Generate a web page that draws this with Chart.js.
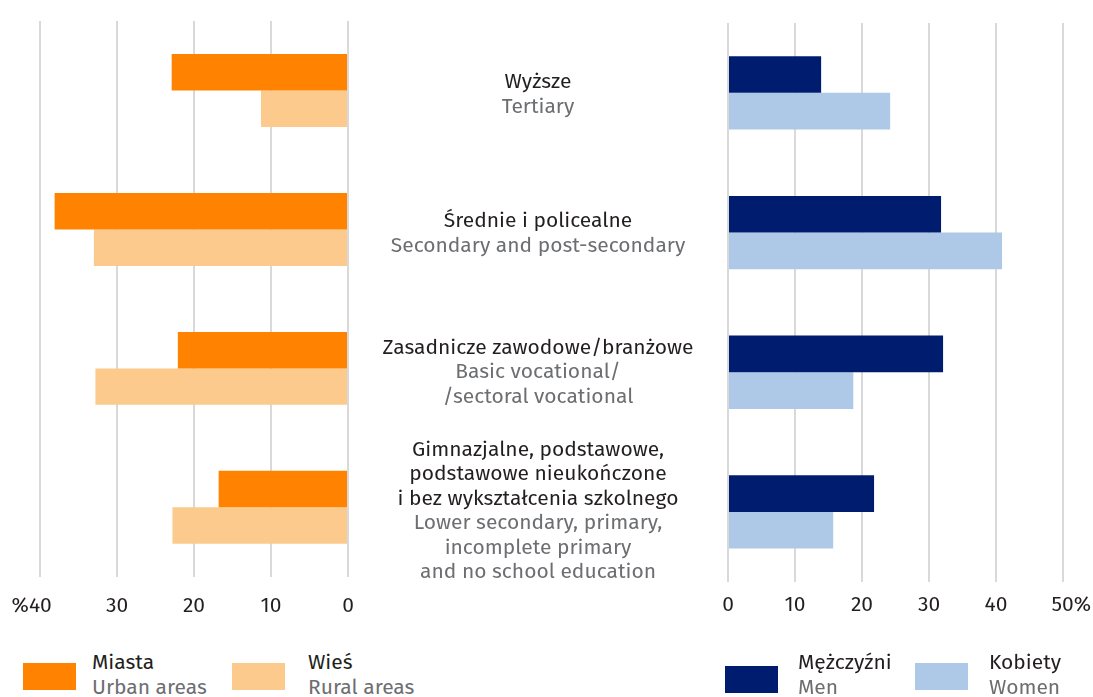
<!DOCTYPE html>
<html>
<head>
<meta charset="utf-8">
<script src="https://cdn.jsdelivr.net/npm/chart.js@4.4.1/dist/chart.umd.min.js"></script>
<style>
  body { margin: 0; background: #fff; font-family: "Fira Sans", "Noto Sans", sans-serif; }
  #wrap { position: relative; width: 1093px; height: 697px; overflow: hidden; }
  canvas { position: absolute; top: 0; }
  #left { left: 0; }
  #right { left: 700px; }
  .leg { position: absolute; font-size: 21px; line-height: 25px; }
  .leg .sw { position: absolute; width: 53px; height: 27px; }
  .leg .pl { color: #231f20; white-space: nowrap; }
  .leg .en { color: #6d6e71; white-space: nowrap; }
</style>
</head>
<body>
<div id="wrap">
  <canvas id="left" width="720" height="642"></canvas>
  <canvas id="right" width="410" height="640"></canvas>
  <div id="legend"></div>
</div>
<script>
// categories (Polish / English)
var catPL = [
    ["Wyższe"],
    ["Średnie i policealne"],
    ["Zasadnicze zawodowe/branżowe"],
    ["Gimnazjalne, podstawowe,", "podstawowe nieukończone", "i bez wykształcenia szkolnego"]
];
var catEN = [
    ["Tertiary"],
    ["Secondary and post-secondary"],
    ["Basic vocational/", "/sectoral vocational"],
    ["Lower secondary, primary,", "incomplete primary", "and no school education"]
];

// values in %
var urban = [22.9, 38.1, 22.1, 16.8];
var rural = [11.3, 33.0, 32.8, 22.8];
var men = [13.9, 31.8, 32.1, 21.8];
var women = [24.2, 40.9, 18.7, 15.7];

var leftTicks = [0, 10, 20, 30, 40];
var rightTicks = [0, 10, 20, 30, 40, 50];

var seriesNames = [
    { pl: "Miasta", en: "Urban areas", color: "#ff8300" },
    { pl: "Wieś", en: "Rural areas", color: "#fbca8c" },
    { pl: "Mężczyźni", en: "Men", color: "#001c6e" },
    { pl: "Kobiety", en: "Women", color: "#aec8e8" }
];

var FONT = "'Fira Sans', 'Noto Sans', sans-serif";
var DARK = "#231f20";
var GREY = "#6d6e71";

Chart.defaults.font.family = FONT;
Chart.defaults.font.size = 21;
Chart.defaults.color = DARK;

// draws the category texts in the middle, centred on each category row
var centerLabels = {
    id: "centerLabels",
    afterDraw(chart) {
        var ctx = chart.ctx;
        var y = chart.scales.y;
        var lh = 24.5;
        ctx.save();
        ctx.font = "21px " + FONT;
        ctx.textAlign = "center";
        ctx.textBaseline = "middle";
        catPL.forEach((pl, i) => {
            var lines = pl.map(t => [t, DARK]).concat(catEN[i].map(t => [t, GREY]));
            var cy = y.getPixelForValue(i) + 4;
            var start = cy - (lines.length - 1) * lh / 2;
            lines.forEach((l, k) => {
                ctx.fillStyle = l[1];
                ctx.fillText(l[0], 538, start + k * lh);
            });
        });
        ctx.restore();
    }
};

function makeChart(id, dsA, dsB, max, reverse, ticks, pad, tickPad, fmt, plugins) {
    return new Chart(document.getElementById(id), {
        type: "bar",
        data: {
            labels: catPL.map(c => c.join(" ")),
            datasets: [
                { label: dsA.pl, data: dsA.data, backgroundColor: dsA.color, borderWidth: 0 },
                { label: dsB.pl, data: dsB.data, backgroundColor: dsB.color, borderWidth: 0 }
            ]
        },
        options: {
            indexAxis: "y",
            responsive: false,
            animation: false,
            layout: { padding: pad },
            categoryPercentage: 0.525,
            barPercentage: 1,
            plugins: { legend: { display: false }, tooltip: { enabled: false } },
            scales: {
                x: {
                    min: 0,
                    max: max,
                    reverse: reverse,
                    afterBuildTicks: axis => { axis.ticks = ticks.map(v => ({ value: v })); },
                    grid: { color: "#d9d9d9", lineWidth: 2, drawTicks: false },
                    border: { display: false },
                    ticks: { padding: tickPad, color: DARK, callback: fmt, maxRotation: 0 }
                },
                y: { display: false }
            }
        },
        plugins: plugins
    });
}

// the % sign hangs outside the number, so pad with spaces to keep the number on its gridline
makeChart("left",
    { pl: seriesNames[0].pl, data: urban, color: seriesNames[0].color },
    { pl: seriesNames[1].pl, data: rural, color: seriesNames[1].color },
    40, true, leftTicks,
    { left: 40, right: 372, top: 21, bottom: 6 }, 17,
    v => v === 40 ? "%40   " : String(v),
    [centerLabels]);

makeChart("right",
    { pl: seriesNames[2].pl, data: men, color: seriesNames[2].color },
    { pl: seriesNames[3].pl, data: women, color: seriesNames[3].color },
    50, false, rightTicks,
    { left: 28, right: 47, top: 23, bottom: 11 }, 11,
    v => v === 50 ? "   50%" : String(v),
    []);

// legend
var legPos = [
    { sw: [23, 663], tx: 92 },
    { sw: [232, 663], tx: 308 },
    { sw: [725, 666], tx: 798 },
    { sw: [915, 663], tx: 989 }
];
var legend = document.getElementById("legend");
seriesNames.forEach((s, i) => {
    var p = legPos[i];
    var sw = document.createElement("div");
    sw.className = "leg";
    sw.innerHTML = '<div class="sw" style="left:' + p.sw[0] + 'px;top:' + p.sw[1] + 'px;background:' + s.color + '"></div>';
    legend.appendChild(sw);
    var t = document.createElement("div");
    t.className = "leg";
    t.style.left = p.tx + "px";
    t.style.top = "650px";
    t.innerHTML = '<div class="pl">' + s.pl + '</div><div class="en">' + s.en + '</div>';
    legend.appendChild(t);
});
</script>
</body>
</html>
